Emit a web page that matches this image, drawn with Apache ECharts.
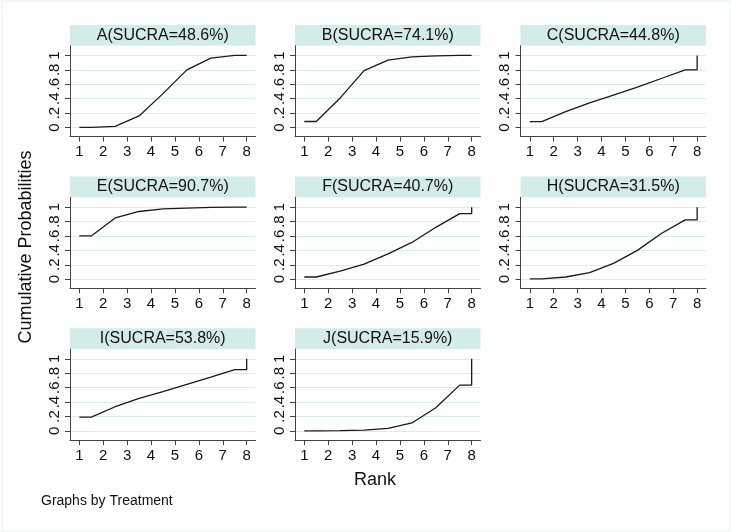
<!DOCTYPE html>
<html>
<head>
<meta charset="utf-8">
<script src="https://cdn.jsdelivr.net/npm/echarts@6/dist/echarts.min.js"></script>
<style>
html,body{margin:0;padding:0;background:#fff;}
#chart{width:731px;height:532px;}
</style>
</head>
<body>
<div id="chart"></div>
<script>
// Treatments and SUCRA labels
const treatments = ['A', 'B', 'C', 'E', 'F', 'H', 'I', 'J'];
const sucra = ['48.6', '74.1', '44.8', '90.7', '40.7', '31.5', '53.8', '15.9'];
// Cumulative probabilities for ranks 1..7 (rank 8 = 1)
const cumA = [0.002, 0.014, 0.16, 0.47, 0.80, 0.963, 1.0];
const cumB = [0.083, 0.41, 0.79, 0.935, 0.98, 0.993, 1.0];
const cumC = [0.08, 0.22, 0.34, 0.45, 0.56, 0.68, 0.80];
const cumE = [0.60, 0.85, 0.94, 0.975, 0.988, 0.996, 1.0];
const cumF = [0.03, 0.11, 0.21, 0.35, 0.51, 0.72, 0.91];
const cumH = [0.005, 0.03, 0.09, 0.22, 0.40, 0.635, 0.824];
const cumI = [0.19, 0.335, 0.45, 0.545, 0.645, 0.745, 0.85];
const cumJ = [0.0, 0.002, 0.01, 0.035, 0.11, 0.32, 0.635];
const cumulative = [cumA, cumB, cumC, cumE, cumF, cumH, cumI, cumJ];
// x positions of plotted points (rank scale)
const rankPos = [1, 1.5, 2.5, 3.5, 4.5, 5.5, 6.5, 7.5, 8, 8];
const xTicks = [1, 2, 3, 4, 5, 6, 7, 8];
const yTicks = [0, 0.2, 0.4, 0.6, 0.8, 1];

const FONT = 'Liberation Sans, Arial, sans-serif';
const colLeft = [70, 295, 520.5];
const rowTop = [45.6, 197.3, 349.0];
const plotW = 185.5, plotH = 91, stripH = 20.7;

function pointsFor(c) {
  const ys = [c[0], c[0], c[1], c[2], c[3], c[4], c[5], c[6], c[6], 1];
  return rankPos.map((x, i) => [x, ys[i]]);
}
function yFmt(v) {
  if (Math.abs(v) < 1e-9) return '0';
  if (Math.abs(v - 1) < 1e-9) return '1';
  return String(+v.toFixed(1)).replace(/^0\./, '.');
}

const grids = [], xAxes = [], yAxes = [], series = [], graphics = [];
treatments.forEach((t, i) => {
  const r = Math.floor(i / 3), c = i % 3;
  const left = colLeft[c], top = rowTop[r];
  grids.push({ left: left, top: top, width: plotW, height: plotH, containLabel: false });
  xAxes.push({
    type: 'value', gridIndex: i, min: 0.61, max: 8.37,
    axisLine: { show: true, onZero: false, lineStyle: { color: '#444', width: 1 } },
    axisTick: { show: true, length: 5, customValues: xTicks, lineStyle: { color: '#444' } },
    axisLabel: { show: true, customValues: xTicks, color: '#111', fontSize: 15, fontFamily: FONT, margin: 8 },
    splitLine: { show: false }
  });
  yAxes.push({
    type: 'value', gridIndex: i, min: -0.127, max: 1.137,
    axisLine: { show: true, onZero: false, lineStyle: { color: '#444', width: 1 } },
    axisTick: { show: true, length: 5, customValues: yTicks, lineStyle: { color: '#444' } },
    axisLabel: { show: true, customValues: yTicks, rotate: 90, color: '#111', fontSize: 15, fontFamily: FONT, margin: 8, formatter: yFmt },
    splitLine: { show: true, lineStyle: { color: '#d8eeed', width: 1 } }
  });
  series.push({
    type: 'line', xAxisIndex: i, yAxisIndex: i, data: pointsFor(cumulative[i]),
    showSymbol: false, symbol: 'none', animation: false,
    lineStyle: { color: '#1a1a1a', width: 1.3 }
  });
  graphics.push({
    type: 'rect', left: left, top: top - stripH,
    shape: { x: 0, y: 0, width: plotW, height: stripH },
    style: { fill: '#d2ecea' }, silent: true
  });
  graphics.push({
    type: 'text', x: left + plotW / 2, y: top - stripH / 2,
    style: { text: t + '(SUCRA=' + sucra[i] + '%)', fill: '#111', font: '16px ' + FONT, textAlign: 'center', textVerticalAlign: 'middle' },
    silent: true
  });
});

graphics.push({
  type: 'rect', shape: { x: 2, y: 1, width: 728, height: 530 },
  style: { fill: 'none', stroke: '#e4f2f2', lineWidth: 1 }, silent: true
});
graphics.push({
  type: 'text', x: 26, y: 247, rotation: Math.PI / 2,
  style: { text: 'Cumulative Probabilities', fill: '#111', font: '18px ' + FONT, textAlign: 'center', textVerticalAlign: 'middle' },
  silent: true
});
graphics.push({
  type: 'text', x: 375, y: 480,
  style: { text: 'Rank', fill: '#111', font: '18px ' + FONT, textAlign: 'center', textVerticalAlign: 'middle' },
  silent: true
});
graphics.push({
  type: 'text', x: 41, y: 501,
  style: { text: 'Graphs by Treatment', fill: '#111', font: '14px ' + FONT, textAlign: 'left', textVerticalAlign: 'middle' },
  silent: true
});

const chart = echarts.init(document.getElementById('chart'), null, { renderer: 'canvas' });
chart.setOption({
  animation: false,
  backgroundColor: '#ffffff',
  grid: grids, xAxis: xAxes, yAxis: yAxes, series: series, graphic: graphics
});
</script>
</body>
</html>
